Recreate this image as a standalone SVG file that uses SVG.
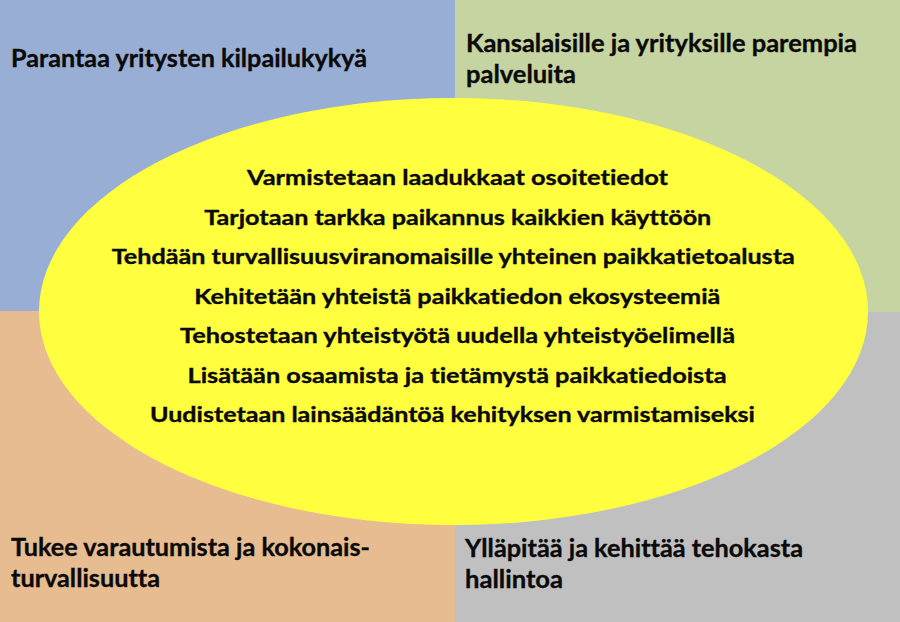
<svg xmlns="http://www.w3.org/2000/svg" width="900" height="622" viewBox="0 0 900 622">
<style>
text{font-family:Lato,"Liberation Sans",sans-serif;font-weight:bold;fill:#0a0a0a;stroke:#0a0a0a;stroke-width:0.35px;font-variant-ligatures:none;font-feature-settings:"liga" 0,"clig" 0;}
.q{font-size:24.5px;}
.c{font-size:20.8px;text-anchor:middle;}
</style>
<g id="q-tl"><rect x="0" y="0" width="455" height="311" fill="#98aed4"/><text class="q" x="11" y="67" textLength="356" lengthAdjust="spacingAndGlyphs">Parantaa yritysten kilpailukykyä</text></g>
<g id="q-tr"><rect x="455" y="0" width="445" height="312" fill="#c5d4a0"/><text class="q" x="466" y="52" textLength="391" lengthAdjust="spacingAndGlyphs">Kansalaisille ja yrityksille parempia</text><text class="q" x="466" y="83" textLength="110" lengthAdjust="spacingAndGlyphs">palveluita</text></g>
<g id="q-bl"><rect x="0" y="311" width="455" height="311" fill="#e7bc90"/><text class="q" x="11" y="556" textLength="359" lengthAdjust="spacingAndGlyphs">Tukee varautumista ja kokonais-</text><text class="q" x="11" y="587" textLength="149" lengthAdjust="spacingAndGlyphs">turvallisuutta</text></g>
<g id="q-br"><rect x="455" y="312" width="445" height="310" fill="#c0c0c0"/><text class="q" x="465" y="557" textLength="338" lengthAdjust="spacingAndGlyphs">Ylläpitää ja kehittää tehokasta</text><text class="q" x="465" y="588" textLength="98" lengthAdjust="spacingAndGlyphs">hallintoa</text></g>
<g id="center">
<ellipse cx="453.5" cy="311.5" rx="414.5" ry="213.5" fill="#ffff40"/>
<text class="c" x="457.5" y="185" textLength="421" lengthAdjust="spacingAndGlyphs">Varmistetaan laadukkaat osoitetiedot</text>
<text class="c" x="457.8" y="224.5" textLength="507" lengthAdjust="spacingAndGlyphs">Tarjotaan tarkka paikannus kaikkien käyttöön</text>
<text class="c" x="453.3" y="264" textLength="683" lengthAdjust="spacingAndGlyphs">Tehdään turvallisuusviranomaisille yhteinen paikkatietoalusta</text>
<text class="c" x="457.3" y="303.5" textLength="526" lengthAdjust="spacingAndGlyphs">Kehitetään yhteistä paikkatiedon ekosysteemiä</text>
<text class="c" x="457.5" y="343" textLength="555" lengthAdjust="spacingAndGlyphs">Tehostetaan yhteistyötä uudella yhteistyöelimellä</text>
<text class="c" x="457" y="382.5" textLength="539" lengthAdjust="spacingAndGlyphs">Lisätään osaamista ja tietämystä paikkatiedoista</text>
<text class="c" x="452.5" y="422" textLength="605" lengthAdjust="spacingAndGlyphs">Uudistetaan lainsäädäntöä kehityksen varmistamiseksi</text>
</g>
</svg>
